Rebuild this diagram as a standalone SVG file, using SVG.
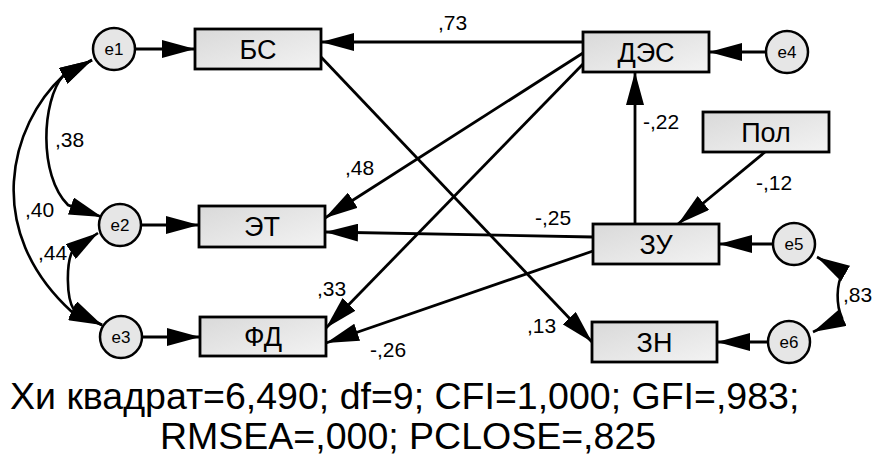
<svg xmlns="http://www.w3.org/2000/svg" width="873" height="458" viewBox="0 0 873 458">
<defs>
<linearGradient id="g" x1="0" y1="0" x2="1" y2="1">
<stop offset="0" stop-color="#d9d9d9"/>
<stop offset="1" stop-color="#f3f3f3"/>
</linearGradient>
<marker id="ah" markerUnits="userSpaceOnUse" markerWidth="34" markerHeight="18" refX="33" refY="9" orient="auto-start-reverse">
<path d="M0,0 L33,9 L0,18 z" fill="#000"/>
</marker>
</defs>
<style>
.box{fill:url(#g);stroke:#000;stroke-width:2.8}
.err{fill:#e6e6e6;stroke:#000;stroke-width:2.5}
.bt{font-family:"Liberation Sans",Arial,sans-serif;font-size:27px;text-anchor:middle;fill:#000}
.et{font-family:"Liberation Sans",Arial,sans-serif;font-size:17px;text-anchor:middle;fill:#000}
.lb{font-family:"Liberation Sans",Arial,sans-serif;font-size:21px;fill:#000}
.ft{font-family:"Liberation Sans",Arial,sans-serif;font-size:37.5px;fill:#000}
.c{fill:none;stroke:#000;stroke-width:2.8;marker-end:url(#ah)}
.cv{fill:none;stroke:#000;stroke-width:2.6;marker-start:url(#ah);marker-end:url(#ah)}
</style>
<g id="connectors">
<path class="c" d="M135,49 L195,49"/>
<path class="c" d="M583,42 L321,42"/>
<path class="c" d="M766,52 L709,52"/>
<path class="c" d="M635,224 L635,72"/>
<path class="c" d="M765,152 L678,224"/>
<path class="c" d="M773,244 L719,244"/>
<path class="c" d="M767,342 L717,342"/>
<path class="c" d="M321,57 L592,342"/>
<path class="c" d="M583,53 L325,218"/>
<path class="c" d="M583,64 L326,328"/>
<path class="c" d="M593,237 L325,232"/>
<path class="c" d="M593,251 L326,343"/>
<path class="c" d="M142,225 L199,225"/>
<path class="c" d="M142,337 L200,337"/>
<path class="cv" d="M92,60 L63,76 C42,100 38,175 68,205 L102,217"/>
<path class="cv" d="M92,60 L63,76 C10,125 -18,230 72,312 L102,325"/>
<path class="cv" d="M98,233 L73,250 C66,262 66,298 74,310 L102,325"/>
<path class="cv" d="M817,257 L843,272 C836,285 836,305 842,318 L813,332"/>
</g>
<g id="labels">
<text class="lb" x="438" y="30">,73</text>
<text class="lb" x="643" y="129">-,22</text>
<text class="lb" x="756" y="190">-,12</text>
<text class="lb" x="55" y="147">,38</text>
<text class="lb" x="25" y="217">,40</text>
<text class="lb" x="38" y="260">,44</text>
<text class="lb" x="345" y="175">,48</text>
<text class="lb" x="535" y="225">-,25</text>
<text class="lb" x="317" y="296">,33</text>
<text class="lb" x="370" y="357">-,26</text>
<text class="lb" x="527" y="333">,13</text>
<text class="lb" x="843" y="302">,83</text>
</g>
<g id="BS"><rect class="box" x="195" y="29" width="126" height="40"/><text class="bt" x="258" y="58.5">БС</text></g>
<g id="DES"><rect class="box" x="583" y="32" width="126" height="40"/><text class="bt" x="646" y="61.5">ДЭС</text></g>
<g id="Pol"><rect class="box" x="703" y="112" width="126" height="40"/><text class="bt" x="766" y="141.5">Пол</text></g>
<g id="ET"><rect class="box" x="199" y="206" width="126" height="41"/><text class="bt" x="262" y="236">ЭТ</text></g>
<g id="FD"><rect class="box" x="200" y="317" width="126" height="39"/><text class="bt" x="263" y="346">ФД</text></g>
<g id="ZU"><rect class="box" x="593" y="224" width="126" height="40"/><text class="bt" x="656" y="253.5">ЗУ</text></g>
<g id="ZN"><rect class="box" x="592" y="322" width="125" height="40"/><text class="bt" x="654.5" y="351.5">ЗН</text></g>
<g id="e1"><circle class="err" cx="114" cy="49" r="21"/><text class="et" x="114" y="55">e1</text></g>
<g id="e2"><circle class="err" cx="120" cy="225" r="21"/><text class="et" x="120" y="231">e2</text></g>
<g id="e3"><circle class="err" cx="121" cy="337" r="21"/><text class="et" x="121" y="343">e3</text></g>
<g id="e4"><circle class="err" cx="787" cy="52" r="21"/><text class="et" x="787" y="58">e4</text></g>
<g id="e5"><circle class="err" cx="794" cy="244" r="21"/><text class="et" x="794" y="250">e5</text></g>
<g id="e6"><circle class="err" cx="789" cy="342" r="21"/><text class="et" x="789" y="348">e6</text></g>
<g id="fit">
<text class="ft" x="10" y="409">Хи квадрат=6,490; df=9; CFI=1,000; GFI=,983;</text>
<text class="ft" x="160" y="449">RMSEA=,000; PCLOSE=,825</text>
</g>
</svg>
